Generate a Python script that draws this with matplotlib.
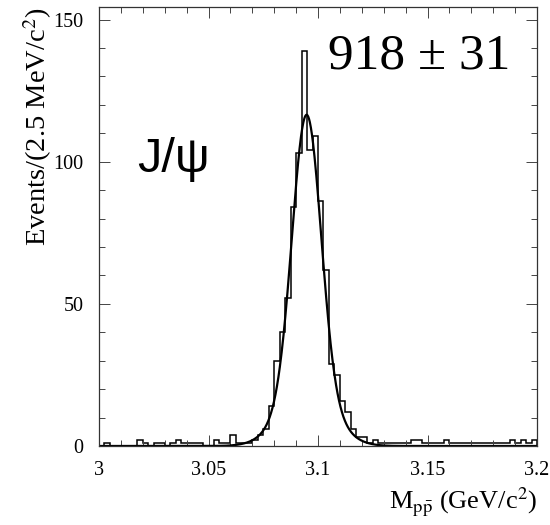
import numpy as np
import matplotlib
matplotlib.use("Agg")
import matplotlib.pyplot as plt
from matplotlib.ticker import FixedLocator, FixedFormatter, MultipleLocator

# ---- data ----
x_min, x_max, n_bins = 3.0, 3.2, 80
counts = [0, 1, 0, 0, 0, 0, 0, 2, 1, 0,
          1, 1, 0, 1, 2, 1, 1, 1, 1, 0,
          0, 2, 1, 1, 4, 1, 1, 1, 2, 4,
          6, 14, 30, 40, 52, 84, 103, 139, 104, 109,
          86, 62, 29, 25, 16, 12, 6, 3, 3, 1,
          2, 1, 1, 1, 1, 1, 1, 2, 2, 1,
          1, 1, 1, 2, 1, 1, 1, 1, 1, 1,
          1, 1, 1, 1, 1, 2, 1, 2, 1, 2]
# fit (double gaussian) parameters
fit_mean = 3.0948
fit_amp_core, fit_sigma_core = 96.5, 0.0065
fit_amp_tail, fit_sigma_tail = 20.0, 0.0115

x_ticks = [3.0, 3.05, 3.1, 3.15, 3.2]
x_ticklabels = ["3", "3.05", "3.1", "3.15", "3.2"]
y_ticks = [0, 50, 100, 150]
y_ticklabels = ["0", "50", "100", "150"]
yield_text = "918 ± 31"
label_text = "J/ψ"

plt.rcParams['font.family'] = ['Liberation Serif', 'DejaVu Serif']
plt.rcParams['mathtext.fontset'] = 'stix'

fig = plt.figure(figsize=(5.5, 5.25), dpi=100)
ax = fig.add_axes([99/550, 1 - 446/525, 438/550, 439/525])

edges = np.linspace(x_min, x_max, n_bins + 1)
ax.stairs(counts, edges, color='black', linewidth=1.1)

xf = np.linspace(x_min, x_max, 1200)
yf = (fit_amp_core * np.exp(-0.5 * ((xf - fit_mean) / fit_sigma_core) ** 2)
      + fit_amp_tail * np.exp(-0.5 * ((xf - fit_mean) / fit_sigma_tail) ** 2))
ax.plot(xf, yf, color='black', linewidth=1.6)

ax.set_xlim(x_min, x_max)
ax.set_ylim(0, 154.4)

ax.xaxis.set_major_locator(FixedLocator(x_ticks))
ax.xaxis.set_major_formatter(FixedFormatter(x_ticklabels))
ax.xaxis.set_minor_locator(MultipleLocator(0.01))
ax.yaxis.set_major_locator(FixedLocator(y_ticks))
ax.yaxis.set_major_formatter(FixedFormatter(y_ticklabels))
ax.yaxis.set_minor_locator(MultipleLocator(10))

ax.tick_params(which='both', direction='in', top=True, right=True,
               color='#444444', width=0.7)
ax.tick_params(which='major', length=8, labelsize=14.5)
ax.tick_params(axis='y', which='major', pad=11)
ax.tick_params(axis='x', which='major', pad=11)
ax.tick_params(which='minor', length=4.5)
for s in ax.spines.values():
    s.set_linewidth(0.9)
    s.set_color('#333333')

ax.set_ylabel("Events/(2.5 MeV/c$^2$)", fontsize=20.5, loc='top', labelpad=0)
ax.set_xlabel(r"M$_{\mathrm{p\bar{p}}}$ (GeV/c$^2$)", fontsize=19, loc='right', labelpad=4)

ax.text(0.523, 0.861, yield_text, transform=ax.transAxes, fontsize=37,
        ha='left', va='baseline')
ax.text(0.087, 0.624, label_text, transform=ax.transAxes, fontsize=35,
        ha='left', va='baseline', family=['Liberation Sans', 'DejaVu Sans'])

fig.savefig("out.png", dpi=100)
